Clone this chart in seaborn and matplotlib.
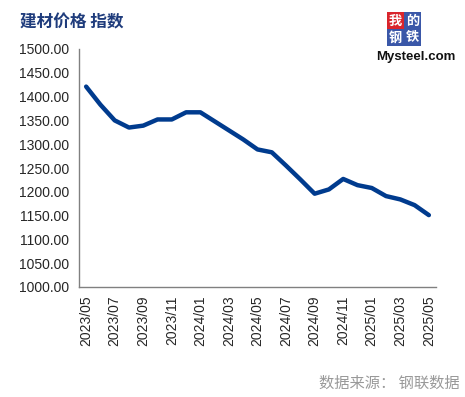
import numpy as np
import pandas as pd
import matplotlib
matplotlib.use('Agg')
import matplotlib.pyplot as plt
from matplotlib.patches import Rectangle
import seaborn as sns

# monthly building material price index, 2023/05 - 2025/05
months = ['2023/05', '2023/06', '2023/07', '2023/08', '2023/09', '2023/10', '2023/11', '2023/12',
          '2024/01', '2024/02', '2024/03', '2024/04', '2024/05', '2024/06', '2024/07', '2024/08',
          '2024/09', '2024/10', '2024/11', '2024/12', '2025/01', '2025/02', '2025/03', '2025/04',
          '2025/05']
index_values = [1421, 1383, 1350, 1335, 1339, 1352, 1352, 1367, 1367, 1348, 1329, 1310, 1289,
                1283, 1255, 1226, 1196, 1205, 1227, 1214, 1208, 1191, 1184, 1172, 1151]
y_ticks = [1000, 1050, 1100, 1150, 1200, 1250, 1300, 1350, 1400, 1450, 1500]

df = pd.DataFrame({'pos': np.arange(len(months)), 'value': index_values})

sns.set_style('white')
plt.rcParams['font.family'] = ['Liberation Sans', 'Noto Sans CJK SC', 'DejaVu Sans']

W, H = 465, 397
fig = plt.figure(figsize=(W / 100, H / 100), dpi=100)
ax = fig.add_axes([79 / W, 1 - 287 / H, (436 - 79) / W, (287 - 49) / H])

sns.lineplot(data=df, x='pos', y='value', ax=ax, color='#003b8e', linewidth=3.2)

ax.set_ylim(1000, 1500)
ax.set_yticks(y_ticks)
ax.set_yticklabels([f'{v:.2f}' for v in y_ticks], fontsize=10)
ax.set_xlim(-0.5, len(months) - 0.5)
label_pos = list(range(0, len(months), 2))
ax.set_xticks(label_pos)
ax.set_xticklabels([months[i] for i in label_pos], rotation=90, fontsize=10)
ax.set_xticks([p - 0.5 for p in label_pos], minor=True)
ax.tick_params(axis='x', which='major', length=0, pad=6)
ax.tick_params(axis='x', which='minor', length=4, color='#808080', direction='out')
ax.tick_params(axis='y', length=4, color='#808080', direction='out', pad=3)
ax.set_xlabel('')
ax.set_ylabel('')
for s in ['top', 'right']:
    ax.spines[s].set_visible(False)
for s in ['left', 'bottom']:
    ax.spines[s].set_color('#808080')
    ax.spines[s].set_linewidth(1)

# title
fig.text(20 / W, 1 - 22 / H, '建材价格 指数', fontsize=12, fontweight='bold',
         color='#1f3c7c', family=['Noto Sans CJK SC'], va='center', ha='left')

# logo: 2x2 block of characters
logo_chars = [('我', 387, 12, '#d9252c'), ('的', 404, 12, '#3a57a8'),
              ('钢', 387, 29, '#3a57a8'), ('铁', 404, 29, '#3a57a8')]
for ch, lx, ly, c in logo_chars:
    fig.patches.append(Rectangle((lx / W, 1 - (ly + 17) / H), 16.5 / W, 17 / H,
                                 transform=fig.transFigure, fc=c, ec='none'))
    fig.text((lx + 8.3) / W, 1 - (ly + 8.5) / H, ch, fontsize=9.5, color='white',
             family=['Noto Sans CJK SC'], fontweight='bold',
             ha='center', va='center')
fig.text(376 / W, 1 - 57 / H, 'Mysteel.com', fontsize=9.5, color='#111111',
         fontweight='semibold', ha='left', va='center')

# source note
fig.text(460 / W, 1 - 383 / H, '数据来源： 钢联数据', fontsize=11, color='#999999',
         family=['Noto Sans CJK SC'], ha='right', va='center')

fig.savefig('out.png', dpi=100)
